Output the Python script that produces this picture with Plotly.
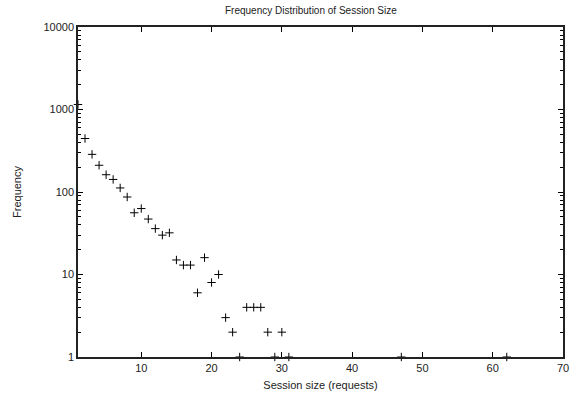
import plotly.graph_objects as go

session_size = [1, 2, 3, 4, 5, 6, 7, 8, 9, 10, 11, 12, 13, 14, 15, 16, 17, 18, 19, 20,
                21, 22, 23, 24, 25, 26, 27, 28, 29, 30, 31, 47, 62]
frequency = [1150, 445, 286, 211, 162, 142, 112, 87, 56, 63, 47, 36, 30, 32, 15, 13, 13, 6, 16, 8,
             10, 3, 2, 1, 4, 4, 4, 2, 1, 2, 1, 1, 1]

x_ticks = [10, 20, 30, 40, 50, 60, 70]
y_ticks = [1, 10, 100, 1000, 10000]

font_family = "Liberation Sans, Arial, Helvetica, sans-serif"

fig = go.Figure()
fig.add_trace(go.Scatter(
    x=session_size, y=frequency, mode="markers",
    marker=dict(symbol="cross-thin", size=6, line=dict(width=1, color="black"), color="black"),
    cliponaxis=False, showlegend=False, hoverinfo="skip",
))

fig.update_layout(
    width=581, height=402,
    margin=dict(l=78, r=16, t=27, b=39),
    paper_bgcolor="white", plot_bgcolor="white",
    font=dict(family=font_family, size=11, color="#222222"),
    title=dict(text="Frequency Distribution of Session Size", x=0.535, xanchor="center",
               y=0.975, yanchor="middle", font=dict(size=10)),
)
fig.update_xaxes(
    range=[1, 70], tickvals=x_ticks, ticktext=[str(v) for v in x_ticks],
    ticks="inside", ticklen=5, tickwidth=1, tickcolor="black",
    showline=True, linecolor="#222222", linewidth=1.5, mirror="allticks",
    showgrid=False, zeroline=False,
    title=dict(text="Session size (requests)", standoff=8, font=dict(size=11)),
    tickfont=dict(size=11),
)
fig.update_yaxes(
    type="log", range=[0, 4], tickvals=y_ticks, ticktext=[str(v) for v in y_ticks],
    ticks="inside", ticklen=5, tickwidth=1, tickcolor="black",
    showline=True, linecolor="#222222", linewidth=1.5, mirror="allticks",
    showgrid=False, zeroline=False,
    minor=dict(ticks="inside", ticklen=3, tickwidth=1, tickcolor="black", dtick="D1", showgrid=False),
    title=dict(text="Frequency", standoff=20, font=dict(size=11)),
    tickfont=dict(size=11),
)

fig.write_html("out.html", config={"displayModeBar": False},
               post_script="document.body.style.margin='0';")
